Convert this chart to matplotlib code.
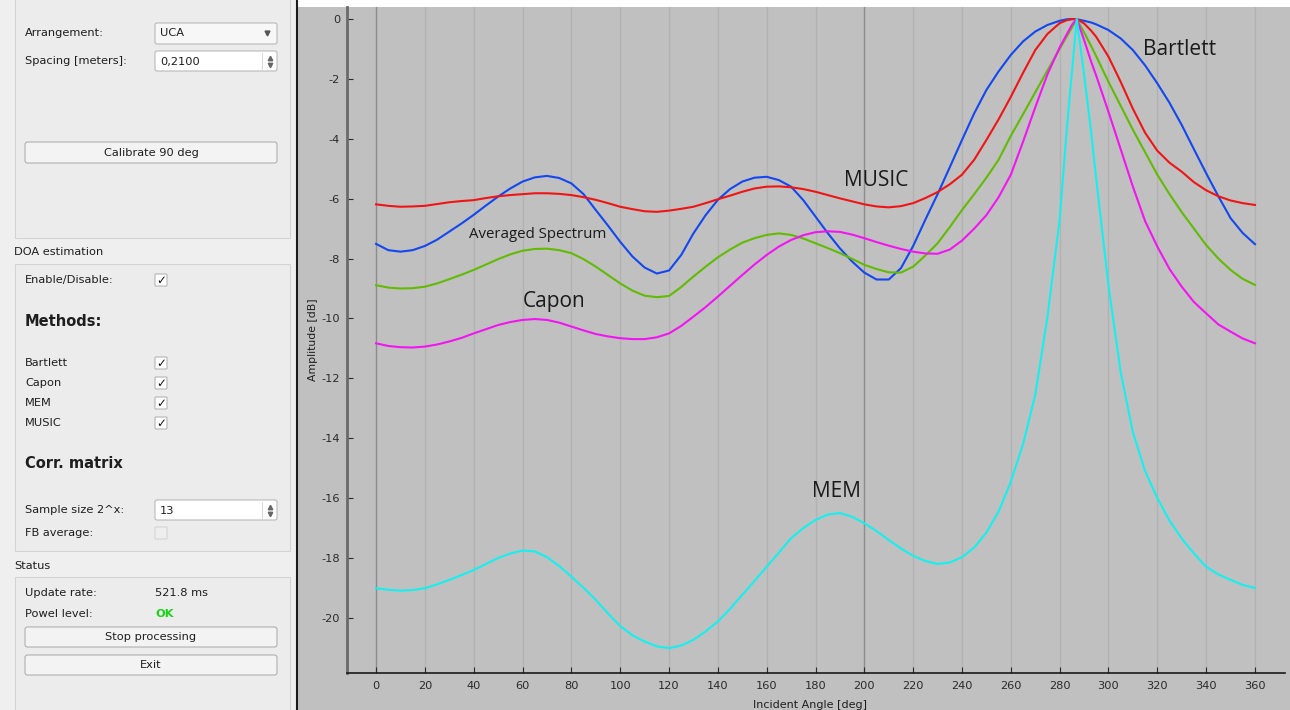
import numpy as np
import matplotlib
matplotlib.use("Agg")
from matplotlib import pyplot as plt
from matplotlib.patches import Rectangle, FancyBboxPatch

plt.rcParams["axes.unicode_minus"] = False

# incident angle grid [deg]
angles = list(range(0, 285, 5)) + [283, 285, 287, 290, 293, 295] + list(range(300, 365, 5))
angles = sorted(set(angles))

bartlett = [-7.51, -7.72, -7.77, -7.72, -7.58, -7.37, -7.10, -6.83, -6.54, -6.23,
            -5.93, -5.66, -5.43, -5.29, -5.24, -5.31, -5.49, -5.85, -6.38, -6.90,
            -7.44, -7.93, -8.30, -8.50, -8.40, -7.88, -7.16, -6.55, -6.04, -5.68,
            -5.43, -5.30, -5.27, -5.38, -5.60, -6.05, -6.60, -7.15, -7.66, -8.10,
            -8.47, -8.70, -8.70, -8.32, -7.58, -6.70, -5.85, -4.95, -4.04, -3.15,
            -2.37, -1.75, -1.20, -0.75, -0.42, -0.20, -0.06, -0.01, 0.00, -0.01,
            -0.06, -0.12, -0.18, -0.37, -0.65, -1.04, -1.55, -2.15, -2.80, -3.54,
            -4.35, -5.15, -5.92, -6.65, -7.15, -7.52]

capon = [-10.83, -10.92, -10.96, -10.97, -10.94, -10.87, -10.77, -10.65, -10.50, -10.36,
         -10.22, -10.12, -10.05, -10.02, -10.05, -10.14, -10.27, -10.40, -10.52, -10.60,
         -10.66, -10.69, -10.69, -10.63, -10.50, -10.25, -9.94, -9.62, -9.27, -8.91,
         -8.55, -8.20, -7.88, -7.60, -7.38, -7.22, -7.12, -7.09, -7.11, -7.20,
         -7.32, -7.45, -7.57, -7.68, -7.77, -7.83, -7.84, -7.70, -7.40, -7.00,
         -6.55, -5.95, -5.20, -4.10, -2.95, -1.85, -0.95, -0.50, -0.20, 0.00,
         -0.70, -1.45, -1.90, -3.10, -4.35, -5.60, -6.75, -7.60, -8.35, -8.94,
         -9.45, -9.83, -10.20, -10.44, -10.67, -10.83]

mem = [-19.01, -19.06, -19.09, -19.07, -19.01, -18.88, -18.73, -18.57, -18.40, -18.20,
       -18.00, -17.85, -17.75, -17.78, -17.97, -18.27, -18.62, -19.00, -19.40, -19.85,
       -20.27, -20.58, -20.79, -20.95, -21.01, -20.92, -20.73, -20.45, -20.12, -19.70,
       -19.23, -18.77, -18.29, -17.82, -17.34, -17.00, -16.73, -16.55, -16.50, -16.62,
       -16.84, -17.10, -17.40, -17.68, -17.93, -18.10, -18.20, -18.15, -17.97, -17.65,
       -17.15, -16.45, -15.45, -14.20, -12.55, -9.95, -6.70, -3.60, -1.80, 0.00,
       -1.85, -3.85, -5.36, -8.90, -11.80, -13.80, -15.10, -16.00, -16.75, -17.35,
       -17.85, -18.29, -18.55, -18.73, -18.90, -19.00]

music = [-6.19, -6.24, -6.27, -6.26, -6.24, -6.18, -6.12, -6.08, -6.05, -5.98,
         -5.92, -5.88, -5.85, -5.82, -5.82, -5.84, -5.88, -5.95, -6.04, -6.15,
         -6.27, -6.35, -6.42, -6.44, -6.40, -6.34, -6.27, -6.15, -6.02, -5.90,
         -5.77, -5.66, -5.60, -5.59, -5.62, -5.68, -5.77, -5.88, -5.99, -6.09,
         -6.19, -6.26, -6.29, -6.25, -6.15, -5.98, -5.78, -5.52, -5.20, -4.70,
         -4.04, -3.35, -2.60, -1.80, -1.04, -0.50, -0.14, -0.04, -0.01, 0.00,
         -0.15, -0.40, -0.60, -1.26, -2.10, -3.00, -3.80, -4.40, -4.80, -5.10,
         -5.45, -5.72, -5.92, -6.06, -6.15, -6.21]

averaged = [-8.89, -8.97, -9.00, -8.99, -8.94, -8.83, -8.69, -8.54, -8.38, -8.20,
            -8.02, -7.86, -7.74, -7.68, -7.67, -7.72, -7.82, -8.02, -8.27, -8.55,
            -8.83, -9.07, -9.24, -9.29, -9.25, -8.95, -8.60, -8.27, -7.96, -7.70,
            -7.47, -7.32, -7.21, -7.16, -7.21, -7.33, -7.49, -7.65, -7.82, -8.01,
            -8.21, -8.35, -8.46, -8.47, -8.27, -7.90, -7.49, -6.95, -6.38, -5.85,
            -5.30, -4.70, -3.90, -3.18, -2.45, -1.72, -1.00, -0.57, -0.29, 0.00,
            -0.45, -0.92, -1.25, -2.10, -2.90, -3.70, -4.45, -5.20, -5.85, -6.45,
            -7.00, -7.55, -8.00, -8.38, -8.68, -8.88]

# series drawn in this order, with their colours
series = [
    ("Bartlett", bartlett, "#1347f0"),
    ("MUSIC", music, "#f01414"),
    ("Averaged Spectrum", averaged, "#62bb00"),
    ("Capon", capon, "#f214f2"),
    ("MEM", mem, "#14f0f0"),
]

# label positions on the plot (angle, dB, font size)
plot_labels = [
    ("Bartlett", 329.3, -1.03, 15),
    ("MUSIC", 204.8, -5.38, 15),
    ("Averaged Spectrum", 66.3, -7.21, 10.8),
    ("Capon", 72.9, -9.45, 15),
    ("MEM", 188.4, -15.79, 15),
]

x_ticks = list(range(0, 361, 20))
y_ticks = list(range(-20, 1, 2))

method_names = ["Bartlett", "Capon", "MEM", "MUSIC"]

W, H = 1290, 710
fig = plt.figure(figsize=(W / 100, H / 100), dpi=100)
fig.patch.set_facecolor("#efefef")

# background layer in pixel coordinates
bg = fig.add_axes([0, 0, 1, 1], zorder=0)
bg.set_xlim(0, W)
bg.set_ylim(H, 0)
bg.axis("off")

TXT = "#1e1e1e"
FS = 8.2


def box(x, y, w, h, face, edge, r=0.0, lw=0.75):
    if r > 0:
        p = FancyBboxPatch((x, y), w, h, boxstyle=f"round,pad=0,rounding_size={r}",
                           facecolor=face, edgecolor=edge, linewidth=lw)
    else:
        p = Rectangle((x, y), w, h, facecolor=face, edgecolor=edge, linewidth=lw)
    bg.add_patch(p)


def label(x, y, s, **kw):
    kw.setdefault("fontsize", FS)
    kw.setdefault("color", TXT)
    bg.text(x, y, s, va="center", ha=kw.pop("ha", "left"), **kw)


def checkbox(x, y, checked=True, enabled=True):
    box(x - 6, y - 6, 12, 12, "white" if enabled else "#eeeeee",
        "#b0b0b0" if enabled else "#d2d2d2", r=1)
    if checked:
        bg.text(x, y + 0.5, "\u2713", ha="center", va="center", fontsize=8.5,
                fontweight="bold", color="#111111")


def spinbox(x, y, w, h, value):
    box(x, y, w, h, "white", "#b5b5b5", r=2)
    bg.plot([x + w - 15, x + w - 15], [y + 2, y + h - 2], color="#d8d8d8", lw=0.75)
    bg.plot([x + w - 7.5], [y + h / 2 - 3.5], marker="^", ms=3.2, color="#666666")
    bg.plot([x + w - 7.5], [y + h / 2 + 3.5], marker="v", ms=3.2, color="#666666")
    label(x + 5, y + h / 2 + 0.5, value)


def button(x, y, w, h, s):
    box(x, y, w, h, "#f3f3f3", "#ababab", r=2.5)
    label(x + w / 2, y + h / 2 + 0.5, s, ha="center")


# left panel and group boxes
box(0, 0, 296, H, "#efefef", "none", lw=0)
box(14.5, -5, 275, 243, "#ececec", "#d3d3d3")
box(14.5, 263.5, 275, 287.5, "#ececec", "#d3d3d3")
box(14.5, 576.5, 275, 140, "#ececec", "#d3d3d3")

label(25, 33, "Arrangement:")
box(155, 23, 122, 21, "#f7f7f7", "#b5b5b5", r=2)
label(160, 33.5, "UCA")
bg.plot([267], [33], marker="v", ms=3.5, color="#555555")
label(25, 61, "Spacing [meters]:")
spinbox(155, 51, 122, 20, "0,2100")
button(25, 142, 252, 21, "Calibrate 90 deg")

label(14, 252, "DOA estimation")
label(25, 280, "Enable/Disable:")
checkbox(161, 280)
label(25, 321, "Methods:", fontsize=10.5, fontweight="bold")
for i, name in enumerate(method_names):
    label(25, 363 + 20 * i, name)
    checkbox(161, 363 + 20 * i)
label(25, 464, "Corr. matrix", fontsize=10.5, fontweight="bold")
label(25, 510, "Sample size 2^x:")
spinbox(155, 500, 122, 20, "13")
label(25, 533, "FB average:")
checkbox(161, 533, checked=False, enabled=False)

label(14, 566, "Status")
label(25, 593, "Update rate:")
label(155, 593, "521.8 ms")
label(25, 614, "Powel level:")
label(155, 614, "OK", color="#19d219", fontweight="bold")
button(25, 627, 252, 20, "Stop processing")
button(25, 655, 252, 20, "Exit")

# plot widget area
box(298, 7, W - 298, H - 7, "#c0c0c0", "none", lw=0)
box(298, 0, W - 298, 7, "white", "none", lw=0)
bg.plot([296.5, 296.5], [0, H], color="#1c1c1c", lw=1.5)

# spectrum plot
x0, x1, y0, y1 = 347, 1285, 7, 673
ax = fig.add_axes([x0 / W, 1 - y1 / H, (x1 - x0) / W, (y1 - y0) / H], zorder=1)
ax.set_facecolor("#c0c0c0")
ax.set_xlim(-11.9, 372.3)
ax.set_ylim(-21.84, 0.40)

for xt in x_ticks:
    c = "#8c8c8c" if xt in (0, 200) else "#b2b2b2"
    ax.axvline(xt, color=c, lw=1.0, zorder=1)

for name, vals, color in series:
    ax.plot(angles, vals, color=color, lw=1.5, zorder=3, solid_joinstyle="round")

for s, xa, ya, fs in plot_labels:
    ax.text(xa, ya, s, ha="center", va="center", fontsize=fs,
            family=["Open Sans", "DejaVu Sans"], color="#1a1a1a", zorder=4)

ax.set_xticks(x_ticks)
ax.set_yticks(y_ticks)
ax.tick_params(axis="both", direction="in", length=4, labelsize=FS,
               labelcolor="#2a2a2a", color="#2a2a2a")
ax.tick_params(axis="x", pad=6)
ax.tick_params(axis="y", pad=5)
for side in ("top", "right"):
    ax.spines[side].set_visible(False)
ax.spines["left"].set_color("#6a6a6a")
ax.spines["left"].set_linewidth(2)
ax.spines["bottom"].set_color("#1a1a1a")
ax.spines["bottom"].set_linewidth(1.2)

fig.text(313 / W, 1 - 340 / H, "Amplitude [dB]", rotation=90, ha="center",
         va="center", fontsize=7.8, color=TXT)
fig.text(810 / W, 1 - 700 / H, "Incident Angle [deg]", ha="center", va="top",
         fontsize=8, color=TXT)

fig.savefig("out.png", dpi=100, facecolor=fig.get_facecolor())
